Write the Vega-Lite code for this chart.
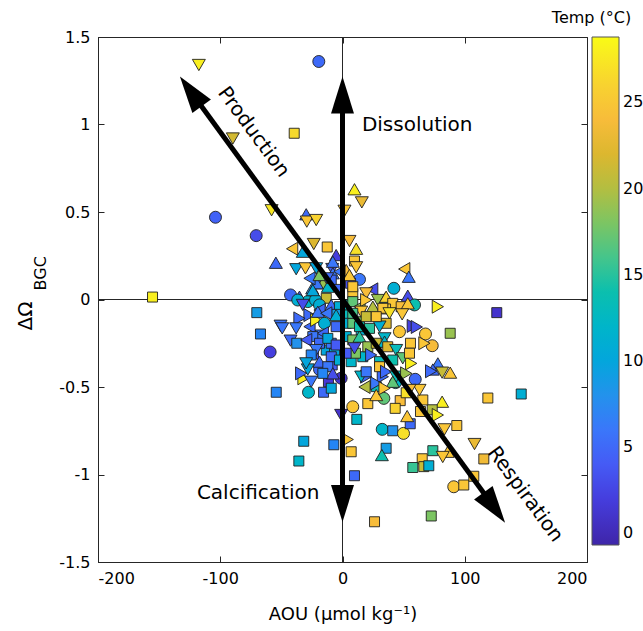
{
 "$schema": "https://vega.github.io/schema/vega-lite/v6.json",
 "width": 489, "height": 525,
 "autosize": {"type": "none"},
 "padding": {"left": 98, "top": 37, "right": 56, "bottom": 69},
 "config": {
  "font": "DejaVu Sans",
  "view": {"stroke": "#262626", "strokeWidth": 1},
  "axis": {"domainColor": "#262626", "tickColor": "#262626", "labelColor": "#000", "titleColor": "#000", "labelFont": "DejaVu Sans", "titleFont": "DejaVu Sans", "labelFontSize": 16, "grid": false, "tickSize": -6, "labelPadding": 14, "titleFontWeight": "normal", "titleFontSize": 18},
  "legend": {"labelFont": "DejaVu Sans", "titleFont": "DejaVu Sans"}
 },
 "resolve": {"axis": {"x": "independent", "y": "independent"}},
 "datasets": {
  "pts": [
   {"x":-155.4,"y":0.014,"t":28,"s":"s"},{"x":-117.5,"y":1.34,"t":28,"s":"d"},{"x":-19.4,"y":1.36,"t":5,"s":"c"},{"x":-89.7,"y":0.92,"t":21.5,"s":"d"},{"x":-39.5,"y":0.95,"t":26.5,"s":"s"},{"x":9.8,"y":0.63,"t":28,"s":"u"},{"x":15.8,"y":0.555,"t":23,"s":"d"},{"x":-58,"y":0.51,"t":27.5,"s":"d"},{"x":-29.7,"y":0.487,"t":5,"s":"u"},{"x":-29.2,"y":0.445,"t":25,"s":"d"},{"x":-21.5,"y":0.454,"t":26,"s":"d"},{"x":1.6,"y":0.507,"t":25,"s":"d"},{"x":-103.9,"y":0.47,"t":4.5,"s":"c"},{"x":-70.6,"y":0.365,"t":3,"s":"c"},{"x":-23.5,"y":0.317,"t":22,"s":"d"},{"x":-12.5,"y":0.3,"t":25,"s":"s"},{"x":-41.2,"y":0.29,"t":25,"s":"l"},{"x":-32.5,"y":0.273,"t":10,"s":"u"},{"x":5.7,"y":0.334,"t":24,"s":"d"},{"x":11.2,"y":0.29,"t":27,"s":"u"},{"x":-5.2,"y":0.254,"t":2,"s":"u"},{"x":9.8,"y":0.22,"t":25,"s":"s"},{"x":11.2,"y":0.184,"t":25,"s":"d"},{"x":-54.5,"y":0.21,"t":5,"s":"u"},{"x":-37.9,"y":0.173,"t":10,"s":"d"},{"x":-30.3,"y":0.178,"t":25,"s":"d"},{"x":-21.5,"y":0.178,"t":10,"s":"d"},{"x":-8.4,"y":0.174,"t":4,"s":"d"},{"x":-7.9,"y":0.216,"t":6,"s":"u"},{"x":13.9,"y":0.115,"t":6,"s":"c"},{"x":50.5,"y":0.174,"t":25,"s":"l"},{"x":54.2,"y":0.13,"t":6,"s":"u"},{"x":24.3,"y":0.058,"t":3,"s":"l"},{"x":42,"y":0.064,"t":11,"s":"c"},{"x":53.4,"y":0.022,"t":3,"s":"u"},{"x":8.4,"y":0.035,"t":25,"s":"s"},{"x":6.5,"y":0.093,"t":3,"s":"s"},{"x":-42.5,"y":0.026,"t":5,"s":"c"},{"x":-13.3,"y":0.007,"t":21,"s":"s"},{"x":-24.8,"y":0.064,"t":8,"s":"u"},{"x":-35.2,"y":0.016,"t":4,"s":"u"},{"x":-28.4,"y":-0.012,"t":12,"s":"c"},{"x":-22.1,"y":-0.003,"t":11,"s":"c"},{"x":78,"y":-0.041,"t":28,"s":"r"},{"x":58.9,"y":-0.031,"t":14,"s":"c"},{"x":35.2,"y":0.01,"t":9,"s":"u"},{"x":-20.2,"y":0.1,"t":5,"s":"l"},{"x":-9.2,"y":-0.031,"t":5,"s":"u"},
   {"x":-7.9,"y":0.15,"t":6,"s":"u"},{"x":3,"y":0.169,"t":24,"s":"u"},{"x":-9.2,"y":0.111,"t":5,"s":"s"},{"x":-16.1,"y":0.093,"t":19,"s":"u"},{"x":-21,"y":0.093,"t":6,"s":"u"},{"x":-24.3,"y":0.054,"t":10,"s":"u"},{"x":-12,"y":0.073,"t":12,"s":"u"},{"x":-3.8,"y":0.054,"t":5,"s":"d"},{"x":8.4,"y":0.073,"t":25,"s":"s"},{"x":19.4,"y":0.035,"t":24,"s":"d"},{"x":28.9,"y":-0.003,"t":19,"s":"d"},{"x":35.7,"y":0.016,"t":26,"s":"u"},{"x":41.1,"y":-0.022,"t":25,"s":"s"},{"x":48,"y":-0.041,"t":24,"s":"s"},{"x":53.4,"y":-0.022,"t":25,"s":"u"},{"x":-36.6,"y":-0.003,"t":11,"s":"c"},{"x":-32.5,"y":-0.031,"t":3,"s":"d"},{"x":-18.8,"y":-0.031,"t":11,"s":"c"},{"x":-2.5,"y":-0.041,"t":11,"s":"s"},{"x":3,"y":-0.031,"t":13,"s":"s"},{"x":8.4,"y":-0.012,"t":17,"s":"s"},{"x":13.9,"y":-0.041,"t":19,"s":"l"},{"x":19.4,"y":-0.003,"t":25,"s":"r"},{"x":-27,"y":0.121,"t":6,"s":"l"},{"x":-18.8,"y":0.14,"t":18,"s":"u"},{"x":-12.5,"y":0.121,"t":5,"s":"d"},{"x":-2.5,"y":0.159,"t":6,"s":"l"},{"x":5.7,"y":0.14,"t":25,"s":"u"},
   {"x":88.1,"y":-0.193,"t":19,"s":"s"},{"x":46.6,"y":-0.184,"t":25,"s":"c"},{"x":67.9,"y":-0.197,"t":25,"s":"c"},{"x":73.4,"y":-0.264,"t":24,"s":"c"},{"x":55.6,"y":-0.25,"t":25,"s":"s"},{"x":67,"y":-0.25,"t":25,"s":"r"},{"x":78,"y":-0.365,"t":6,"s":"u"},{"x":88.1,"y":-0.418,"t":25,"s":"u"},{"x":81.5,"y":-0.418,"t":21,"s":"d"},{"x":73.9,"y":-0.4,"t":5,"s":"u"},{"x":72.5,"y":-0.41,"t":5,"s":"r"},{"x":59.5,"y":-0.456,"t":5,"s":"c"},{"x":126.2,"y":-0.075,"t":1,"s":"s"},{"x":118.9,"y":-0.563,"t":25,"s":"s"},{"x":146.2,"y":-0.54,"t":11,"s":"s"},{"x":81.5,"y":-0.584,"t":28,"s":"u"},{"x":73.4,"y":-0.63,"t":20,"s":"s"},{"x":78,"y":-0.66,"t":28,"s":"r"},{"x":93.5,"y":-0.72,"t":25,"s":"s"},{"x":83.4,"y":-0.742,"t":25,"s":"d"},{"x":108,"y":-0.826,"t":23,"s":"d"},{"x":73.9,"y":-0.864,"t":15,"s":"s"},{"x":86.1,"y":-0.87,"t":25,"s":"u"},{"x":82,"y":-0.9,"t":25,"s":"d"},{"x":65.2,"y":-0.91,"t":25,"s":"s"},{"x":57.5,"y":-0.96,"t":15.5,"s":"s"},{"x":66.5,"y":-0.955,"t":21,"s":"s"},{"x":70.6,"y":-0.95,"t":11,"s":"s"},{"x":115.6,"y":-0.911,"t":23.5,"s":"s"},{"x":91,"y":-1.07,"t":25,"s":"c"},{"x":99.2,"y":-1.06,"t":25,"s":"s"},{"x":107.4,"y":-1.01,"t":25,"s":"s"},{"x":26.2,"y":-1.27,"t":24,"s":"s"},{"x":72.6,"y":-1.237,"t":18,"s":"s"},
   {"x":-70.1,"y":-0.075,"t":9,"s":"s"},{"x":-67.1,"y":-0.197,"t":7,"s":"s"},{"x":-59.2,"y":-0.3,"t":2,"s":"c"},{"x":-50.7,"y":-0.15,"t":6,"s":"d"},{"x":-49.3,"y":-0.165,"t":6,"s":"d"},{"x":-42.5,"y":-0.235,"t":5,"s":"d"},{"x":-37.4,"y":-0.25,"t":8,"s":"s"},{"x":-54.2,"y":-0.53,"t":7,"s":"s"},{"x":-15.5,"y":-0.53,"t":5,"s":"s"},{"x":-27.8,"y":-0.53,"t":12,"s":"c"},{"x":-31.9,"y":-0.45,"t":28,"s":"r"},{"x":-18.8,"y":-0.4,"t":5,"s":"c"},{"x":-11.5,"y":-0.47,"t":1.5,"s":"s"},{"x":-1.1,"y":-0.45,"t":1,"s":"c"},{"x":-28.4,"y":-0.4,"t":10,"s":"d"},{"x":8.4,"y":-0.613,"t":25,"s":"c"},{"x":-1.1,"y":-0.66,"t":1,"s":"d"},{"x":11.7,"y":-0.685,"t":12,"s":"s"},{"x":33.8,"y":-0.565,"t":17,"s":"c"},{"x":20.7,"y":-0.595,"t":25,"s":"s"},{"x":32.5,"y":-0.742,"t":12,"s":"c"},{"x":41.1,"y":-0.75,"t":8,"s":"s"},{"x":49.9,"y":-0.765,"t":27,"s":"c"},{"x":47.2,"y":-0.578,"t":24,"s":"s"},{"x":43.1,"y":-0.622,"t":26,"s":"s"},{"x":55.4,"y":-0.71,"t":5,"s":"s"},{"x":52.9,"y":-0.666,"t":25,"s":"u"},{"x":18,"y":-0.5,"t":20,"s":"l"},{"x":27.6,"y":-0.498,"t":13,"s":"s"},{"x":65.7,"y":-0.574,"t":25,"s":"s"},{"x":63.8,"y":-0.64,"t":25,"s":"s"},{"x":63,"y":-0.517,"t":25,"s":"d"},{"x":52.1,"y":-0.533,"t":27,"s":"s"},{"x":56.2,"y":-0.365,"t":28,"s":"r"},{"x":43.4,"y":-0.475,"t":12,"s":"c"},{"x":19.4,"y":-0.441,"t":5,"s":"r"},{"x":33,"y":-0.441,"t":5,"s":"r"},{"x":27.6,"y":-0.546,"t":25,"s":"u"},{"x":-31.7,"y":-0.81,"t":10,"s":"s"},{"x":-7.1,"y":-0.83,"t":7,"s":"s"},{"x":4.3,"y":-0.8,"t":25,"s":"r"},{"x":7.1,"y":-0.87,"t":25,"s":"s"},{"x":-35.7,"y":-0.923,"t":12,"s":"s"},{"x":9.8,"y":-1.007,"t":5,"s":"s"},{"x":35.7,"y":-0.85,"t":9,"s":"s"},{"x":32.2,"y":-0.889,"t":14,"s":"u"},
   {"x":-24.3,"y":-0.307,"t":4,"s":"l"},{"x":-8.4,"y":-0.374,"t":4,"s":"s"},{"x":-9.2,"y":-0.507,"t":10,"s":"s"},{"x":-25.6,"y":-0.47,"t":6,"s":"d"},{"x":-13.3,"y":-0.289,"t":10,"s":"s"},{"x":-6.5,"y":-0.307,"t":10,"s":"s"},{"x":7.1,"y":-0.355,"t":12,"s":"s"},{"x":16.6,"y":-0.327,"t":12,"s":"s"},{"x":10.6,"y":-0.307,"t":18,"s":"s"},{"x":-27,"y":-0.089,"t":5,"s":"r"},{"x":-27,"y":-0.155,"t":5,"s":"l"},{"x":-21.5,"y":-0.117,"t":28,"s":"r"},{"x":-14.7,"y":-0.136,"t":11,"s":"c"},{"x":-18.8,"y":-0.06,"t":5,"s":"l"},{"x":-18,"y":-0.203,"t":6,"s":"s"},{"x":-9.2,"y":-0.25,"t":6,"s":"s"},{"x":-4.7,"y":-0.085,"t":9,"s":"s"},{"x":5.7,"y":-0.089,"t":13,"s":"s"},{"x":12.5,"y":-0.127,"t":18,"s":"s"},{"x":15.3,"y":-0.174,"t":11,"s":"s"},{"x":48.8,"y":-0.085,"t":25,"s":"d"},{"x":26.2,"y":-0.06,"t":25,"s":"u"},{"x":35.2,"y":-0.054,"t":25,"s":"s"},{"x":35.7,"y":-0.136,"t":22,"s":"s"},{"x":57.5,"y":-0.151,"t":2,"s":"r"},{"x":60.8,"y":-0.157,"t":3,"s":"r"},{"x":34.4,"y":-0.222,"t":12,"s":"d"},
   {"x":-20.2,"y":-0.07,"t":6,"s":"u"},{"x":-5.2,"y":-0.155,"t":5,"s":"s"},{"x":3,"y":-0.136,"t":11,"s":"s"},{"x":8.4,"y":-0.136,"t":17,"s":"s"},{"x":13.9,"y":-0.155,"t":14,"s":"s"},{"x":22.1,"y":-0.165,"t":15,"s":"s"},{"x":30.3,"y":-0.155,"t":11,"s":"d"},{"x":15.3,"y":-0.07,"t":25,"s":"d"},{"x":24.8,"y":-0.041,"t":20,"s":"u"},{"x":33,"y":-0.05,"t":25,"s":"s"},{"x":38.4,"y":-0.079,"t":27,"s":"d"},{"x":-16.1,"y":-0.193,"t":5,"s":"l"},{"x":-24.3,"y":-0.212,"t":6,"s":"s"},{"x":-29.7,"y":-0.231,"t":4,"s":"l"},{"x":-18.8,"y":-0.25,"t":5,"s":"s"},{"x":-12,"y":-0.222,"t":10,"s":"s"},{"x":-5.2,"y":-0.26,"t":4,"s":"s"},{"x":3,"y":-0.212,"t":11,"s":"s"},{"x":8.4,"y":-0.231,"t":18,"s":"s"},{"x":13.9,"y":-0.212,"t":15,"s":"u"},{"x":20.7,"y":-0.27,"t":19,"s":"s"},{"x":27.6,"y":-0.25,"t":21,"s":"s"},{"x":34.4,"y":-0.241,"t":12,"s":"u"},{"x":37,"y":-0.27,"t":22,"s":"s"},{"x":43.9,"y":-0.289,"t":13,"s":"d"},{"x":49.3,"y":-0.336,"t":17,"s":"d"},{"x":54.8,"y":-0.307,"t":25,"s":"s"},{"x":41.1,"y":-0.346,"t":14,"s":"s"},{"x":30.3,"y":-0.355,"t":13,"s":"s"},{"x":23.5,"y":-0.317,"t":5,"s":"r"},{"x":3,"y":-0.307,"t":4,"s":"s"},{"x":9.8,"y":-0.279,"t":3,"s":"d"},{"x":-21.5,"y":-0.289,"t":6,"s":"d"},{"x":-25.6,"y":-0.317,"t":7,"s":"s"},{"x":-9.2,"y":-0.327,"t":5,"s":"s"},{"x":-2.5,"y":-0.346,"t":11,"s":"s"},{"x":-18.8,"y":-0.355,"t":5,"s":"u"},{"x":-29.7,"y":-0.365,"t":10,"s":"d"},{"x":-12,"y":-0.384,"t":6,"s":"s"},{"x":-7.9,"y":-0.422,"t":3,"s":"u"},{"x":-16.1,"y":-0.422,"t":7,"s":"s"},{"x":15.3,"y":-0.441,"t":12,"s":"d"},{"x":19.4,"y":-0.413,"t":6,"s":"s"},{"x":30.3,"y":-0.384,"t":25,"s":"s"},{"x":35.7,"y":-0.413,"t":5,"s":"r"},{"x":43.9,"y":-0.441,"t":13,"s":"d"},{"x":52.1,"y":-0.422,"t":19,"s":"r"},{"x":41.1,"y":-0.47,"t":17,"s":"u"},{"x":27.6,"y":-0.479,"t":6,"s":"r"},{"x":34.4,"y":-0.507,"t":25,"s":"r"},{"x":54.8,"y":-0.517,"t":24,"s":"d"},{"x":-33.8,"y":-0.422,"t":5,"s":"r"},{"x":-35.2,"y":-0.108,"t":5,"s":"r"},{"x":-37.9,"y":-0.165,"t":6,"s":"d"},{"x":-13.3,"y":-0.079,"t":6,"s":"l"},{"x":-5.2,"y":-0.089,"t":11,"s":"u"},{"x":8.4,"y":-0.079,"t":16,"s":"s"},{"x":19.4,"y":-0.098,"t":21,"s":"s"},{"x":27.6,"y":-0.098,"t":25,"s":"s"}
  ],
  "shafts": [{"x":0,"y":-1.08,"x2":0,"y2":1.08},{"x":-117,"y":1.12,"x2":117,"y2":-1.12}],
  "heads": [{"x":0,"y":1.275,"a":0},{"x":0,"y":-1.272,"a":180},{"x":-133,"y":1.275,"a":324},{"x":133,"y":-1.275,"a":144}],
  "labels": [
   {"x":61.1,"y":1.0,"label":"Dissolution","a":0,"fs":20},
   {"x":-69,"y":-1.103,"label":"Calcification","a":0,"fs":20},
   {"x":-72.8,"y":0.957,"label":"Production","a":53.7,"fs":20},
   {"x":149.5,"y":-1.113,"label":"Respiration","a":53.7,"fs":20},
   {"x":-258.5,"y":-0.094,"label":"ΔΩ","a":270,"fs":20},
   {"x":-247,"y":0.15,"label":"BGC","a":270,"fs":16},
   {"x":203.7,"y":1.609,"label":"Temp (°C)","a":0,"fs":16}
  ]
 },
 "layer": [
  {
   "data": {"values": [{"x":0}]},
   "mark": {"type": "rule", "color": "#262626", "strokeWidth": 1},
   "encoding": {"x": {"field": "x", "type": "quantitative", "scale": {"domain": [-200, 200], "nice": false, "zero": false},
     "axis": {"orient": "top", "values": [-200, -100, 0, 100, 200], "labels": false, "title": null, "domain": false}}}
  },
  {
   "data": {"values": [{"y":0}]},
   "mark": {"type": "rule", "color": "#262626", "strokeWidth": 1},
   "encoding": {"y": {"field": "y", "type": "quantitative", "scale": {"domain": [-1.5, 1.5], "nice": false, "zero": false},
     "axis": {"orient": "right", "values": [-1.5, -1, -0.5, 0, 0.5, 1, 1.5], "labels": false, "title": null, "domain": false}}}
  },
  {
   "data": {"name": "pts"},
   "mark": {"type": "point", "filled": true, "opacity": 1, "stroke": "#1f1f1f", "strokeWidth": 0.9},
   "encoding": {
    "x": {"field": "x", "type": "quantitative", "scale": {"domain": [-200, 200], "nice": false, "zero": false},
          "axis": {"orient": "bottom", "values": [-200, -100, 0, 100, 200], "title": "AOU (μmol kg⁻¹)", "titlePadding": 19, "labelExpr": "datum.value < 0 ? '-' + format(-datum.value, '~g') : format(datum.value, '~g')"}},
    "y": {"field": "y", "type": "quantitative", "scale": {"domain": [-1.5, 1.5], "nice": false, "zero": false},
          "axis": {"orient": "left", "values": [-1.5, -1, -0.5, 0, 0.5, 1, 1.5], "title": null, "labelExpr": "datum.value < 0 ? '-' + format(-datum.value, '~g') : format(datum.value, '~g')"}},
    "fill": {"field": "t", "type": "quantitative",
             "scale": {"domain": [-0.7, 28.8], "range": ["#3e26a8", "#4538d9", "#4658f4", "#3a78fa", "#2a96e8", "#16abd6", "#0bbbbd", "#2ec39a", "#6cc66f", "#aebf45", "#dcb72f", "#fbbd3c", "#f6d92d", "#f9fb15"]},
             "legend": {"orient": "none", "legendX": 494, "legendY": 0, "direction": "vertical", "gradientLength": 508, "gradientThickness": 27, "title": null, "labelFontSize": 16, "labelColor": "#000", "labelOffset": 4, "values": [0, 5, 10, 15, 20, 25], "gradientStrokeColor": "#555", "gradientStrokeWidth": 1, "labelOverlap": false, "padding": 0}},
    "shape": {"field": "s", "type": "nominal", "scale": {"domain": ["c", "s", "u", "d", "l", "r"], "range": ["circle", "square", "triangle-up", "triangle-down", "triangle-left", "triangle-right"]}, "legend": null},
    "size": {"field": "s", "type": "nominal", "scale": {"type": "ordinal", "domain": ["c", "s", "u", "d", "l", "r"], "range": [144, 100, 169, 169, 169, 169]}, "legend": null}
   }
  },
  {
   "data": {"name": "shafts"},
   "mark": {"type": "rule", "color": "#000", "strokeWidth": 5},
   "encoding": {
    "x": {"field": "x", "type": "quantitative", "axis": null}, "y": {"field": "y", "type": "quantitative", "axis": null},
    "x2": {"field": "x2"}, "y2": {"field": "y2"}
   }
  },
  {
   "data": {"name": "heads"},
   "mark": {"type": "point", "shape": "M0,0L-0.62,2L0.62,2Z", "size": 1369, "filled": true, "fill": "#000", "opacity": 1, "strokeWidth": 0},
   "encoding": {
    "x": {"field": "x", "type": "quantitative", "axis": null}, "y": {"field": "y", "type": "quantitative", "axis": null},
    "angle": {"field": "a", "type": "quantitative", "scale": null}
   }
  },
  {
   "data": {"name": "labels"},
   "mark": {"type": "text", "font": "DejaVu Sans", "color": "#000", "align": "center", "baseline": "middle"},
   "encoding": {
    "x": {"field": "x", "type": "quantitative", "axis": null}, "y": {"field": "y", "type": "quantitative", "axis": null},
    "text": {"field": "label"},
    "angle": {"field": "a", "type": "quantitative", "scale": null},
    "size": {"field": "fs", "type": "quantitative", "scale": null}
   }
  }
 ]
}
